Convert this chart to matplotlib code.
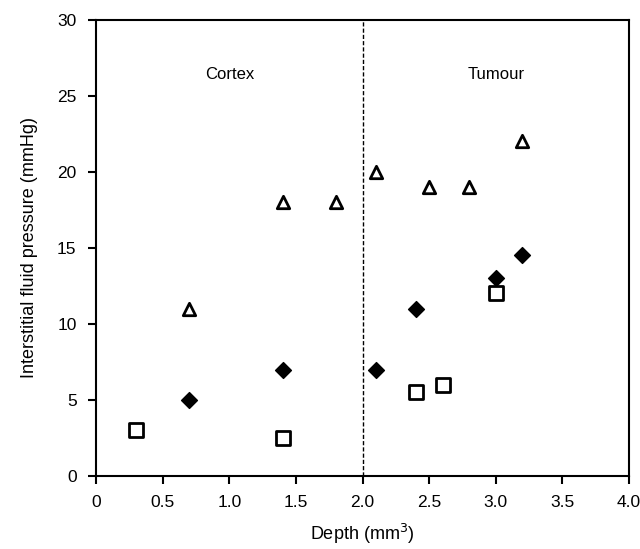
import matplotlib.pyplot as plt

# Data
tri_x = [0.7, 1.4, 1.8, 2.1, 2.5, 2.8, 3.2]
tri_y = [11, 18, 18, 20, 19, 19, 22]
dia_x = [0.7, 1.4, 2.1, 2.4, 3.0, 3.2]
dia_y = [5, 7, 7, 11, 13, 14.5]
sq_x = [0.3, 1.4, 2.4, 2.6, 3.0]
sq_y = [3, 2.5, 5.5, 6, 12]
x_ticks = [0, 0.5, 1.0, 1.5, 2.0, 2.5, 3.0, 3.5, 4.0]
x_labels = ["0", "0.5", "1.0", "1.5", "2.0", "2.5", "3.0", "3.5", "4.0"]
y_ticks = [0, 5, 10, 15, 20, 25, 30]

plt.rcParams["font.family"] = ["Liberation Sans", "DejaVu Sans"]

fig = plt.figure(figsize=(6.4, 5.49), dpi=100)
ax = fig.add_axes([0.15, 0.133, 0.833, 0.831])

ax.scatter(tri_x, tri_y, marker="^", s=80, facecolors="white", edgecolors="black", linewidths=2, zorder=3)
ax.scatter(dia_x, dia_y, marker="D", s=65, color="black", zorder=3)
ax.scatter(sq_x, sq_y, marker="s", s=110, facecolors="white", edgecolors="black", linewidths=2, zorder=3)

ax.axvline(2.0, color="black", linestyle=(0, (3, 1.5)), linewidth=1)

ax.text(1.0, 26.4, "Cortex", ha="center", va="center", fontsize=12)
ax.text(3.0, 26.4, "Tumour", ha="center", va="center", fontsize=12)

ax.set_xlim(0, 4)
ax.set_ylim(0, 30)
ax.set_xticks(x_ticks)
ax.set_xticklabels(x_labels)
ax.set_yticks(y_ticks)
ax.tick_params(direction="out", length=6, width=1.5, labelsize=12.5, pad=8)
for s in ax.spines.values():
    s.set_linewidth(1.5)

ax.set_xlabel("Depth (mm$^3$)", fontsize=13, labelpad=8)
ax.set_ylabel("Interstitial fluid pressure (mmHg)", fontsize=13, labelpad=14)

fig.savefig("out.png", dpi=100)
